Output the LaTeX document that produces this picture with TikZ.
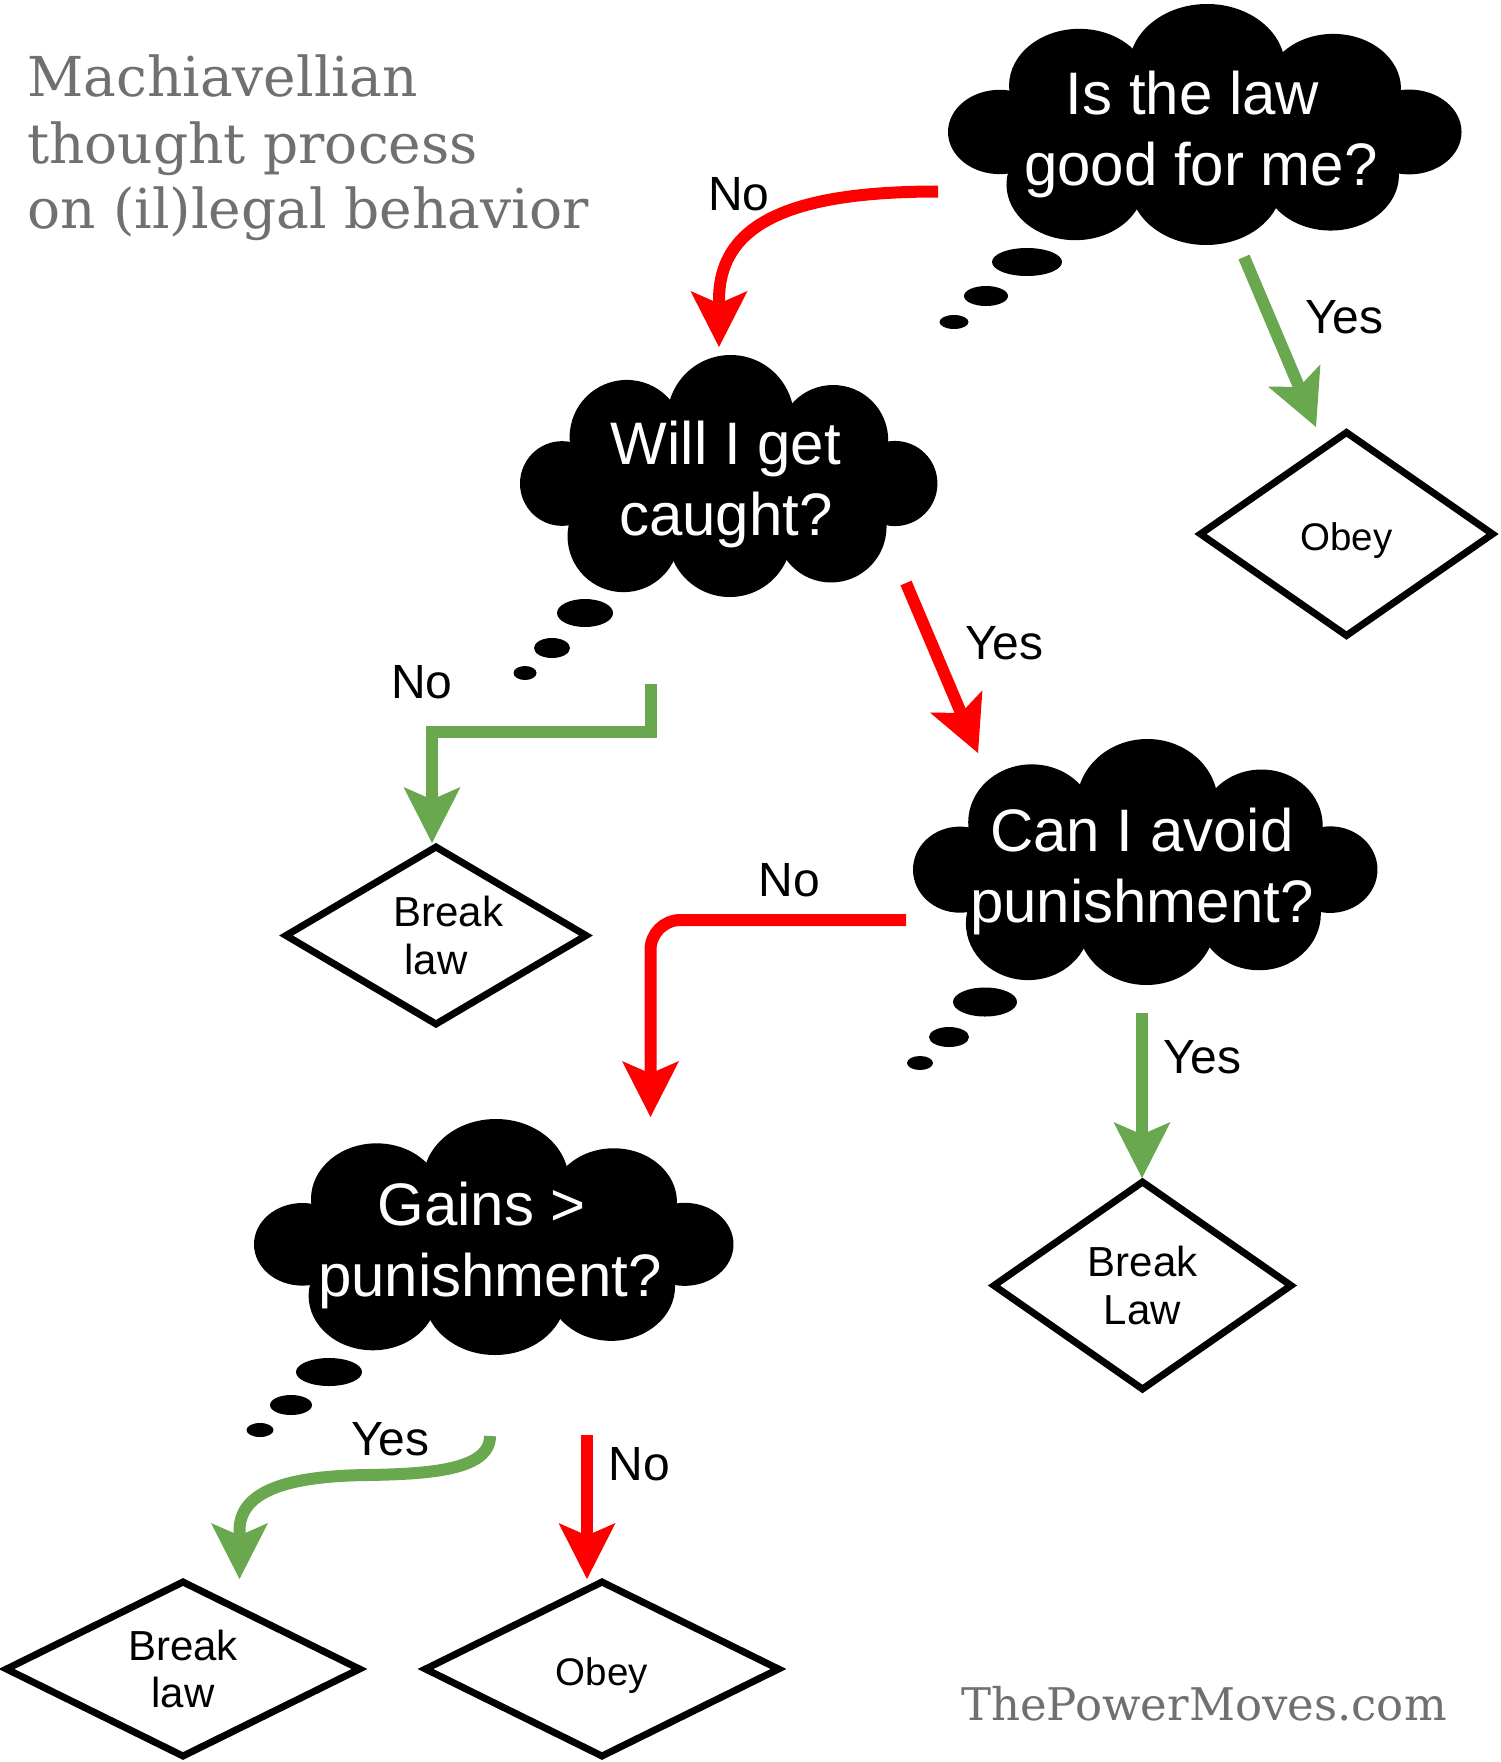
\documentclass[tikz,border=0pt]{standalone}
\usepackage{fontspec}
\setmainfont{Liberation Sans}
\newfontfamily\titlefont{DejaVu Serif}
\usetikzlibrary{arrows.meta,shapes.geometric}
\definecolor{arrred}{RGB}{255,0,0}
\definecolor{arrgreen}{RGB}{106,168,79}
\definecolor{titlegray}{RGB}{112,112,112}

% cloud made of black lobes: x0 y0 width height
\newcommand{\thoughtcloud}[4]{%
  \begin{scope}[shift={(#1,#2)},xscale=#3,yscale=#4]
    \fill (0.505,0.262) ellipse [x radius=0.152,y radius=0.262];
    \fill (0.256,0.339) ellipse [x radius=0.137,y radius=0.236];
    \fill (0.751,0.352) ellipse [x radius=0.132,y radius=0.228];
    \fill (0.101,0.531) ellipse [x radius=0.101,y radius=0.175];
    \fill (0.899,0.531) ellipse [x radius=0.102,y radius=0.176];
    \fill (0.248,0.749) ellipse [x radius=0.134,y radius=0.231];
    \fill (0.503,0.743) ellipse [x radius=0.149,y radius=0.257];
    \fill (0.746,0.710) ellipse [x radius=0.133,y radius=0.230];
    \fill (0.15,0.33) rectangle (0.85,0.75);
  \end{scope}}

\begin{document}
\begin{tikzpicture}[x=1pt,y=-1pt,
  cloudtext/.style={text=white, align=center, inner sep=0pt, font=\fontsize{60}{71}\selectfont},
  lbl/.style={anchor=base west, inner sep=0pt, font=\fontsize{48}{52}\selectfont},
  decision/.style={diamond, aspect=1.7, draw=black, line width=7pt, outer sep=0pt, fill=white, inner sep=0pt, align=center, font=\fontsize{42}{47.5}\selectfont},
  obeybox/.style={diamond, aspect=1.7, draw=black, line width=7pt, outer sep=0pt, fill=white, inner sep=0pt, text height=33pt, text depth=0pt, font=\fontsize{38.5}{44}\selectfont},
  arr/.style={line width=12pt, -{Stealth[length=56pt,width=57pt,inset=12.5pt,line width=0pt]}},
  redarr/.style={arr, color=arrred},
  greenarr/.style={arr, color=arrgreen},
  titletext/.style={anchor=base west, inner sep=0pt, text=titlegray, font=\titlefont\fontsize{55}{66}\selectfont},
  sitetext/.style={anchor=base west, inner sep=0pt, text=titlegray, font=\titlefont\fontsize{45}{54}\selectfont},
  bubble/.style={fill=black}]

\fill[white] (0,0) rectangle (1500,1762);
\useasboundingbox (0,0) rectangle (1500,1762);

% title
\node[titletext] (title1) at (27,96) {Machiavellian};
\node[titletext] (title2) at (27,163) {thought process};
\node[titletext] (title3) at (27,228) {on (il)legal behavior};

% clouds
\thoughtcloud{948}{4}{513}{241}
\thoughtcloud{520}{355}{417}{242}
\thoughtcloud{913}{739}{464}{246}
\thoughtcloud{254}{1119}{479}{236}

% thought bubbles
\fill[bubble] (1027,262) ellipse [x radius=35,y radius=14];
\fill[bubble] (986,296) ellipse [x radius=22,y radius=10];
\fill[bubble] (954,322) ellipse [x radius=14.5,y radius=7];
\fill[bubble] (585,613) ellipse [x radius=28,y radius=14];
\fill[bubble] (552,648) ellipse [x radius=18,y radius=10];
\fill[bubble] (525,673) ellipse [x radius=11.5,y radius=7];
\fill[bubble] (985,1002) ellipse [x radius=32,y radius=14.5];
\fill[bubble] (949,1037) ellipse [x radius=20,y radius=10];
\fill[bubble] (920,1063) ellipse [x radius=13,y radius=7];
\fill[bubble] (329,1372) ellipse [x radius=33,y radius=14];
\fill[bubble] (291,1405) ellipse [x radius=21,y radius=10];
\fill[bubble] (260,1430) ellipse [x radius=13.5,y radius=7];

% cloud texts
\node[cloudtext] (q1) at (1201,134.9) {Is the law\hspace*{16.7pt}\\good for me?};
\node[cloudtext] (q2) at (726,484.9) {Will I get\\caught?};
\node[cloudtext] (q3) at (1142,871.9) {Can I avoid\\punishment?};
\node[cloudtext] (q4) at (490,1245.9) {Gains >\hspace*{16.7pt}\\punishment?};

% outcome diamonds
\node[obeybox, minimum width=292pt, minimum height=203pt] (d1) at (1346.5,534) {Obey};
\node[decision, minimum width=300pt, minimum height=177pt] (d2) at (436,935.5) {\hspace*{25pt}Break\\law};
\node[decision, minimum width=297pt, minimum height=207pt] (d3) at (1142.5,1285.5) {Break\\Law};
\node[decision, minimum width=353pt, minimum height=174pt] (d4) at (183,1669) {Break\\law};
\node[obeybox, minimum width=353pt, minimum height=174pt] (d5) at (602,1669) {Obey};

% connector end points
\coordinate (s1) at (938,191.5);  \coordinate (t1) at (719,347);
\coordinate (s2) at (1244,257);   \coordinate (t2) at (1316,427);
\coordinate (s3) at (906,583);    \coordinate (t3) at (978,753);
\coordinate (s4) at (651,684);    \coordinate (k4) at (651,731.5); \coordinate (t4) at (432,843);
\coordinate (s5) at (906,920);    \coordinate (t5) at (650.5,1117);
\coordinate (s6) at (1142,1013);  \coordinate (t6) at (1142,1178);
\coordinate (s7) at (490,1436);   \coordinate (t7) at (239.5,1579);
\coordinate (s8) at (587,1435);   \coordinate (t8) at (587,1579);

% connectors
\draw[redarr] (s1) .. controls (798,191.5) and (719,220) .. (719,300) -- (t1);
\draw[greenarr] (s2) -- (t2);
\draw[redarr] (s3) -- (t3);
\draw[greenarr] (s4) -- (k4) -| (t4);
\draw[redarr, rounded corners=30pt] (s5) -| (t5);
\draw[greenarr] (s6) -- (t6);
\draw[greenarr] (s7) .. controls (490,1470) and (430,1474) .. (367,1475)
   .. controls (290,1476) and (240,1490) .. (239.5,1530) -- (t7);
\draw[redarr] (s8) -- (t8);

% labels
\node[lbl] (l1) at (708,210) {No};
\node[lbl] (l2) at (1305,333) {Yes};
\node[lbl] (l3) at (965,659) {Yes};
\node[lbl] (l4) at (391,698) {No};
\node[lbl] (l5) at (758.5,896) {No};
\node[lbl] (l6) at (1163,1073) {Yes};
\node[lbl] (l7) at (351,1455) {Yes};
\node[lbl] (l8) at (608.5,1480) {No};

% footer
\node[sitetext] (site) at (961,1720) {ThePowerMoves.com};
\end{tikzpicture}
\end{document}
